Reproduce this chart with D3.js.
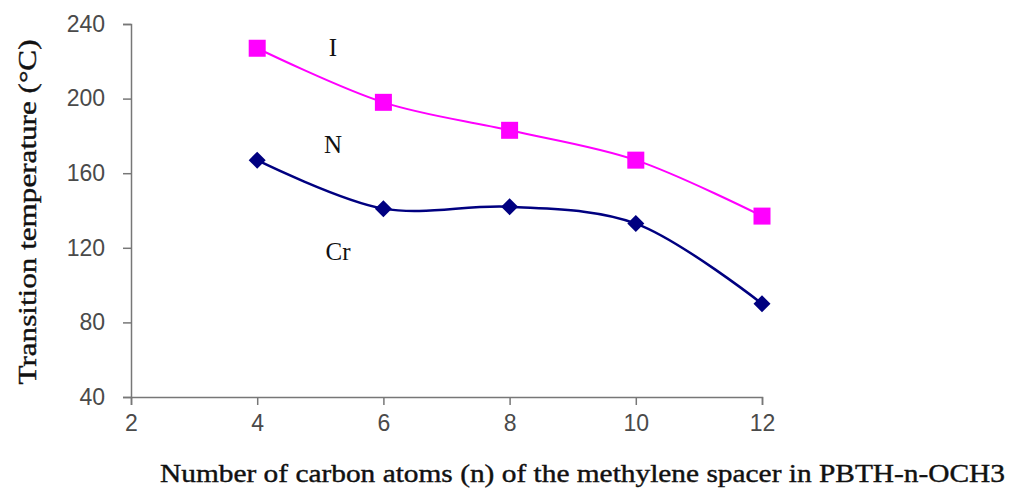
<!DOCTYPE html>
<html lang="en">
<head>
<meta charset="utf-8">
<title>Transition temperature vs spacer length</title>
<script src="https://d3js.org/d3.v7.min.js"></script>
<style>
  body { margin: 0; background: #fff; }
  .axis-title { font-family: "Liberation Serif", "Times New Roman", serif; font-size: 25px; fill: #111; stroke: #111; stroke-width: 0.4px; }
  .phase { font-family: "Liberation Serif", "Times New Roman", serif; font-size: 25px; fill: #111; }
</style>
</head>
<body>
<div id="chart"></div>
<script>
// data
var carbons = [4, 6, 8, 10, 12];
var isoTemps = [227, 198, 183, 167, 137];   // I (clearing)
var crTemps = [167, 141, 142, 133, 90];     // Cr -> N (melting)
var xTicks = [2, 4, 6, 8, 10, 12];
var yTicks = [40, 80, 120, 160, 200, 240];
var phaseLabels = [
  {text: "I", x: 5.2, y: 227},
  {text: "N", x: 5.2, y: 175},
  {text: "Cr", x: 5.28, y: 118}
];

var margin = {top: 24, right: 248, bottom: 91, left: 131},
    width = 1010 - margin.left - margin.right,
    height = 488 - margin.top - margin.bottom;

var svg = d3.select("#chart")
  .append("svg")
    .attr("width", 1010)
    .attr("height", 488)
  .append("g")
    .attr("transform", "translate(" + margin.left + "," + margin.top + ")");

var x = d3.scaleLinear().domain([2, 12]).range([0, width]);
var y = d3.scaleLinear().domain([40, 240]).range([height, 0]);

// axes
var xAxis = svg.append("g")
  .attr("transform", "translate(0," + height + ")")
  .call(d3.axisBottom(x).tickValues(xTicks).tickSize(8).tickPadding(10));
var yAxis = svg.append("g")
  .call(d3.axisLeft(y).tickValues(yTicks).tickSize(8).tickPadding(18));
[xAxis, yAxis].forEach(function(a) {
  a.attr("font-family", "Liberation Sans, Arial, sans-serif").attr("font-size", 23);
  a.selectAll(".tick text").attr("fill", "#4a4a4a");
  a.select(".domain").attr("stroke", "#777").attr("stroke-width", 1.5);
  a.selectAll(".tick line").attr("stroke", "#777").attr("stroke-width", 1.5);
});

var line = d3.line()
  .x(function(d) { return x(d[0]); })
  .y(function(d) { return y(d[1]); })
  .curve(d3.curveCatmullRom.alpha(0.5));

var isoData = carbons.map(function(c, i) { return [c, isoTemps[i]]; });
var crData = carbons.map(function(c, i) { return [c, crTemps[i]]; });

svg.append("path")
  .datum(isoData)
  .attr("d", line)
  .attr("fill", "none")
  .attr("stroke", "#ff00ff")
  .attr("stroke-width", 2);

svg.append("path")
  .datum(crData)
  .attr("d", line)
  .attr("fill", "none")
  .attr("stroke", "#000080")
  .attr("stroke-width", 2.5);

// square markers
svg.selectAll("rect.iso")
  .data(isoData)
  .enter()
  .append("rect")
    .attr("class", "iso")
    .attr("x", function(d) { return x(d[0]) - 8.5; })
    .attr("y", function(d) { return y(d[1]) - 8.5; })
    .attr("width", 17)
    .attr("height", 17)
    .attr("fill", "#ff00ff");

// diamond markers
svg.selectAll("path.cr")
  .data(crData)
  .enter()
  .append("path")
    .attr("class", "cr")
    .attr("d", "M0,-8.5L8.5,0L0,8.5L-8.5,0Z")
    .attr("transform", function(d) { return "translate(" + x(d[0]) + "," + y(d[1]) + ")"; })
    .attr("fill", "#000080");

// phase labels
svg.selectAll("text.phase")
  .data(phaseLabels)
  .enter()
  .append("text")
    .attr("class", "phase")
    .attr("x", function(d) { return x(d.x); })
    .attr("y", function(d) { return y(d.y); })
    .attr("text-anchor", "middle")
    .attr("dy", "0.33em")
    .text(function(d) { return d.text; });

// axis titles
svg.append("text")
  .attr("class", "axis-title")
  .attr("x", 160 - margin.left)
  .attr("y", 482 - margin.top)
  .attr("textLength", 845)
  .attr("lengthAdjust", "spacingAndGlyphs")
  .text("Number of carbon atoms (n) of the methylene spacer in PBTH-n-OCH3");

svg.append("text")
  .attr("class", "axis-title")
  .attr("transform", "translate(" + (36 - margin.left) + "," + (212 - margin.top) + ") rotate(-90)")
  .attr("text-anchor", "middle")
  .attr("textLength", 345)
  .attr("lengthAdjust", "spacingAndGlyphs")
  .text("Transition temperature (°C)");
</script>
</body>
</html>
